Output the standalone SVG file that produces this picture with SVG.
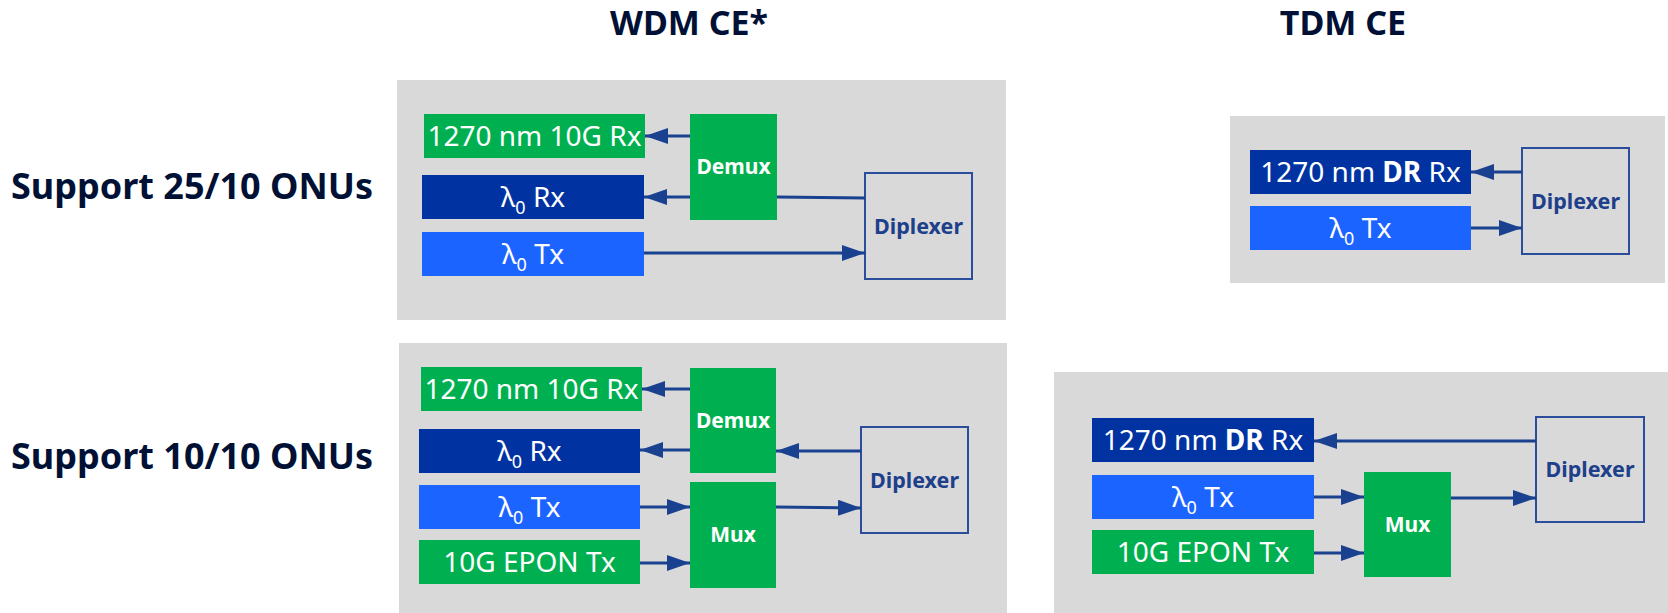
<svg xmlns="http://www.w3.org/2000/svg" width="1668" height="613" viewBox="0 0 1668 613">
<style>
.panel{fill:#D9D9D9}
.green{fill:#00B050}
.dblue{fill:#0033A1}
.blue{fill:#1C64FF}
.lbl{font-family:"Noto Sans","Open Sans",sans-serif;font-size:28px;fill:#FFFFFF;text-anchor:middle}
.blk{font-family:"Noto Sans","Open Sans",sans-serif;font-size:21px;font-weight:bold;fill:#FFFFFF;text-anchor:middle}
.dip{fill:none;stroke:#2A4E9C;stroke-width:2}
.diptxt{font-family:"Noto Sans","Open Sans",sans-serif;font-size:21.5px;font-weight:bold;fill:#1E3F8A;text-anchor:middle}
.title{font-family:"Noto Sans","Open Sans",sans-serif;font-size:34px;font-weight:bold;fill:#001135;text-anchor:middle}
.row{font-family:"Noto Sans","Open Sans",sans-serif;font-size:36px;font-weight:bold;fill:#001135}
.sub{font-size:18px}
.conn{stroke:#1A4190;stroke-width:3;fill:none}
.arr{marker-end:url(#ah)}
</style>
<defs>
<marker id="ah" markerUnits="userSpaceOnUse" markerWidth="23" markerHeight="16" viewBox="0 0 23 16" refX="23" refY="8" orient="auto">
<path d="M0,0 L23,8 L0,16 z" fill="#1A4190"/>
</marker>
</defs>

<g id="titles">
<text class="title" x="689" y="35">WDM CE*</text>
<text class="title" x="1343" y="35">TDM CE</text>
<text class="row" x="11" y="199">Support 25/10 ONUs</text>
<text class="row" x="11" y="469">Support 10/10 ONUs</text>
</g>

<g id="panels">
<rect class="panel" x="397" y="80" width="609" height="240"/>
<rect class="panel" x="399" y="343" width="608" height="270"/>
<rect class="panel" x="1230" y="116" width="435" height="167"/>
<rect class="panel" x="1054" y="372" width="614" height="241"/>
</g>

<!-- Panel A: WDM, 25/10 -->
<g id="a-rx1270"><rect class="green" x="424" y="114" width="221" height="44"/><text class="lbl" x="534.5" y="146">1270 nm 10G Rx</text></g>
<g id="a-rx0"><rect class="dblue" x="422" y="175" width="222" height="44"/><text class="lbl" x="533" y="207">λ<tspan class="sub" dy="7">0</tspan><tspan dy="-7"> Rx</tspan></text></g>
<g id="a-tx0"><rect class="blue" x="422" y="232" width="222" height="44"/><text class="lbl" x="533" y="264">λ<tspan class="sub" dy="7">0</tspan><tspan dy="-7"> Tx</tspan></text></g>
<g id="a-demux"><rect class="green" x="690" y="114" width="87" height="106"/><text class="blk" x="733.5" y="174">Demux</text></g>
<g id="a-diplexer"><rect class="dip" x="865" y="173" width="107" height="106"/><text class="diptxt" x="918.5" y="234">Diplexer</text></g>

<!-- Panel B: WDM, 10/10 -->
<g id="b-rx1270"><rect class="green" x="421" y="367" width="221" height="44"/><text class="lbl" x="531.5" y="399">1270 nm 10G Rx</text></g>
<g id="b-rx0"><rect class="dblue" x="419" y="429" width="221" height="44"/><text class="lbl" x="529.5" y="461">λ<tspan class="sub" dy="7">0</tspan><tspan dy="-7"> Rx</tspan></text></g>
<g id="b-tx0"><rect class="blue" x="419" y="485" width="221" height="44"/><text class="lbl" x="529.5" y="517">λ<tspan class="sub" dy="7">0</tspan><tspan dy="-7"> Tx</tspan></text></g>
<g id="b-epon"><rect class="green" x="419" y="540" width="221" height="44"/><text class="lbl" x="529.5" y="572">10G EPON Tx</text></g>
<g id="b-demux"><rect class="green" x="690" y="368" width="86" height="105"/><text class="blk" x="733" y="428">Demux</text></g>
<g id="b-mux"><rect class="green" x="690" y="482" width="86" height="106"/><text class="blk" x="733" y="542">Mux</text></g>
<g id="b-diplexer"><rect class="dip" x="861" y="427" width="107" height="106"/><text class="diptxt" x="914.5" y="488">Diplexer</text></g>

<!-- Panel C: TDM, 25/10 -->
<g id="c-rxdr"><rect class="dblue" x="1250" y="150" width="221" height="44"/><text class="lbl" x="1360.5" y="182">1270 nm <tspan font-weight="bold">DR</tspan> Rx</text></g>
<g id="c-tx0"><rect class="blue" x="1250" y="206" width="221" height="44"/><text class="lbl" x="1360.5" y="238">λ<tspan class="sub" dy="7">0</tspan><tspan dy="-7"> Tx</tspan></text></g>
<g id="c-diplexer"><rect class="dip" x="1522" y="148" width="107" height="106"/><text class="diptxt" x="1575.5" y="209">Diplexer</text></g>

<!-- Panel D: TDM, 10/10 -->
<g id="d-rxdr"><rect class="dblue" x="1092" y="418" width="222" height="44"/><text class="lbl" x="1203" y="450">1270 nm <tspan font-weight="bold">DR</tspan> Rx</text></g>
<g id="d-tx0"><rect class="blue" x="1092" y="475" width="222" height="44"/><text class="lbl" x="1203" y="507">λ<tspan class="sub" dy="7">0</tspan><tspan dy="-7"> Tx</tspan></text></g>
<g id="d-epon"><rect class="green" x="1092" y="530" width="222" height="44"/><text class="lbl" x="1203" y="562">10G EPON Tx</text></g>
<g id="d-mux"><rect class="green" x="1364" y="472" width="87" height="105"/><text class="blk" x="1407.5" y="532">Mux</text></g>
<g id="d-diplexer"><rect class="dip" x="1536" y="417" width="108" height="105"/><text class="diptxt" x="1590" y="477">Diplexer</text></g>

<g id="connectors">
<!-- A -->
<line class="conn arr" x1="690" y1="136" x2="645" y2="136"/>
<line class="conn arr" x1="690" y1="197" x2="644" y2="197"/>
<line class="conn" x1="865" y1="198" x2="777" y2="197"/>
<line class="conn arr" x1="644" y1="253" x2="865" y2="253"/>
<!-- B -->
<line class="conn arr" x1="690" y1="389" x2="642" y2="389"/>
<line class="conn arr" x1="690" y1="450" x2="640" y2="450"/>
<line class="conn arr" x1="861" y1="451" x2="776" y2="451"/>
<line class="conn arr" x1="640" y1="507" x2="690" y2="507"/>
<line class="conn arr" x1="640" y1="563" x2="690" y2="563"/>
<line class="conn arr" x1="776" y1="507" x2="861" y2="508"/>
<!-- C -->
<line class="conn arr" x1="1522" y1="172" x2="1471" y2="172"/>
<line class="conn arr" x1="1471" y1="228" x2="1522" y2="228"/>
<!-- D -->
<line class="conn arr" x1="1536" y1="441" x2="1314" y2="441"/>
<line class="conn arr" x1="1314" y1="497" x2="1364" y2="497"/>
<line class="conn arr" x1="1314" y1="553" x2="1364" y2="553"/>
<line class="conn arr" x1="1451" y1="498" x2="1536" y2="498"/>
</g>
</svg>
